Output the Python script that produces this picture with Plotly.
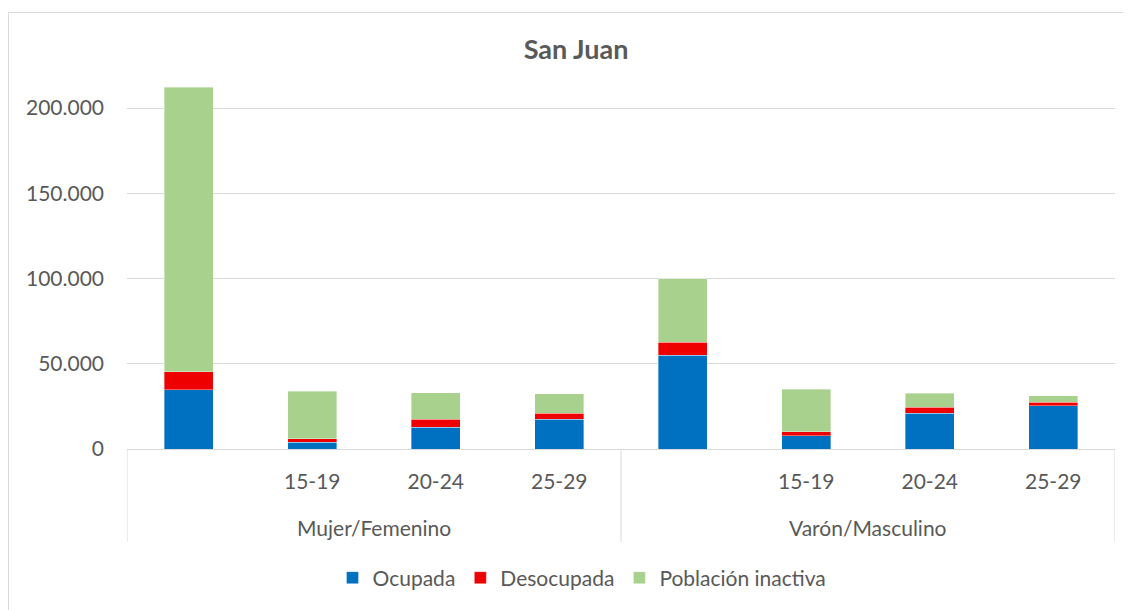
import plotly.graph_objects as go

group_names = ["Mujer/Femenino", "Varón/Masculino"]
ages = ["", "15-19", "20-24", "25-29", "", "15-19", "20-24", "25-29"]

ocupada = [34800, 3900, 12700, 17400, 55000, 7800, 21000, 25400]
desocupada = [10400, 2100, 4900, 3500, 7600, 2200, 3500, 2000]
inactiva = [166900, 28000, 15300, 11500, 37200, 25200, 8200, 3700]

series_names = ["Ocupada", "Desocupada", "Población inactiva"]
colors = ["#0070C0", "#EE0000", "#A9D18E"]

FONT = "Lato"
GRAY = "#595959"
LINE = "#D9D9D9"

# page has an 8px body margin: figure coords = screen - 8
W, H = 1123, 602
L, R, T, B = 119, 16, 66, 161
PH = H - T - B
PW = W - L - R

pos = list(range(len(ages)))

fig = go.Figure()
for name, vals, col in zip(series_names, [ocupada, desocupada, inactiva], colors):
    fig.add_trace(go.Bar(
        x=pos, y=vals, name=name,
        marker=dict(color=col, line=dict(color="rgba(255,255,255,0.6)", width=0.6)),
    ))

fig.update_layout(
    width=W, height=H,
    barmode="stack", bargap=0.6,
    separators=",.",
    paper_bgcolor="white", plot_bgcolor="white",
    margin=dict(l=L, r=R, t=T, b=B, autoexpand=False),
    font=dict(family=FONT, size=21, color=GRAY),
    title=dict(text="<b>San Juan</b>", x=(576 - 8) / W, xanchor="center", y=1 - 42 / H, yanchor="middle",
               font=dict(family=FONT, size=27, color=GRAY)),
    legend=dict(orientation="h", x=(582 - 127) / PW, xanchor="center",
                y=-(578 - 449) / PH, yanchor="middle", itemwidth=30,
                font=dict(family=FONT, size=21, color=GRAY), traceorder="normal"),
    showlegend=True,
)
fig.update_yaxes(range=[0, 220000], tickvals=[0, 50000, 100000, 150000, 200000],
                 tickformat=",d", showgrid=True, gridcolor=LINE, gridwidth=1,
                 zeroline=False, showline=False, ticklabelstandoff=22,
                 tickfont=dict(family=FONT, size=21, color=GRAY))
fig.update_xaxes(range=[-0.5, len(ages) - 0.5], tickvals=pos, ticktext=ages,
                 showline=True, linecolor=LINE, linewidth=1, showgrid=False, zeroline=False,
                 ticks="", ticklabelstandoff=14,
                 tickfont=dict(family=FONT, size=21, color=GRAY))

# group labels and dividers
n_per = len(ages) // len(group_names)
for gi, g in enumerate(group_names):
    center = gi * n_per + (n_per - 1) / 2
    fig.add_annotation(text=g, x=center, xref="x", y=-(527 - 449) / PH, yref="paper",
                       yanchor="middle", showarrow=False,
                       font=dict(family=FONT, size=21, color=GRAY))
for xb in [-0.5, n_per - 0.5, len(ages) - 0.5]:
    fig.add_shape(type="line", xref="x", yref="paper", x0=xb, x1=xb, y0=0, y1=-(542 - 449) / PH,
                  line=dict(color=LINE, width=1))

# chart-area border (top and left edges visible in the reference)
top_y = 1 + (T - 4.5) / PH
left_x = (0.5 - L) / PW
fig.add_shape(type="line", xref="paper", yref="paper", x0=left_x, x1=1.2, y0=top_y, y1=top_y,
              line=dict(color=LINE, width=1), layer="below")
fig.add_shape(type="line", xref="paper", yref="paper", x0=left_x, x1=left_x, y0=top_y, y1=-0.6,
              line=dict(color=LINE, width=1), layer="below")

fig.write_html("out.html")
